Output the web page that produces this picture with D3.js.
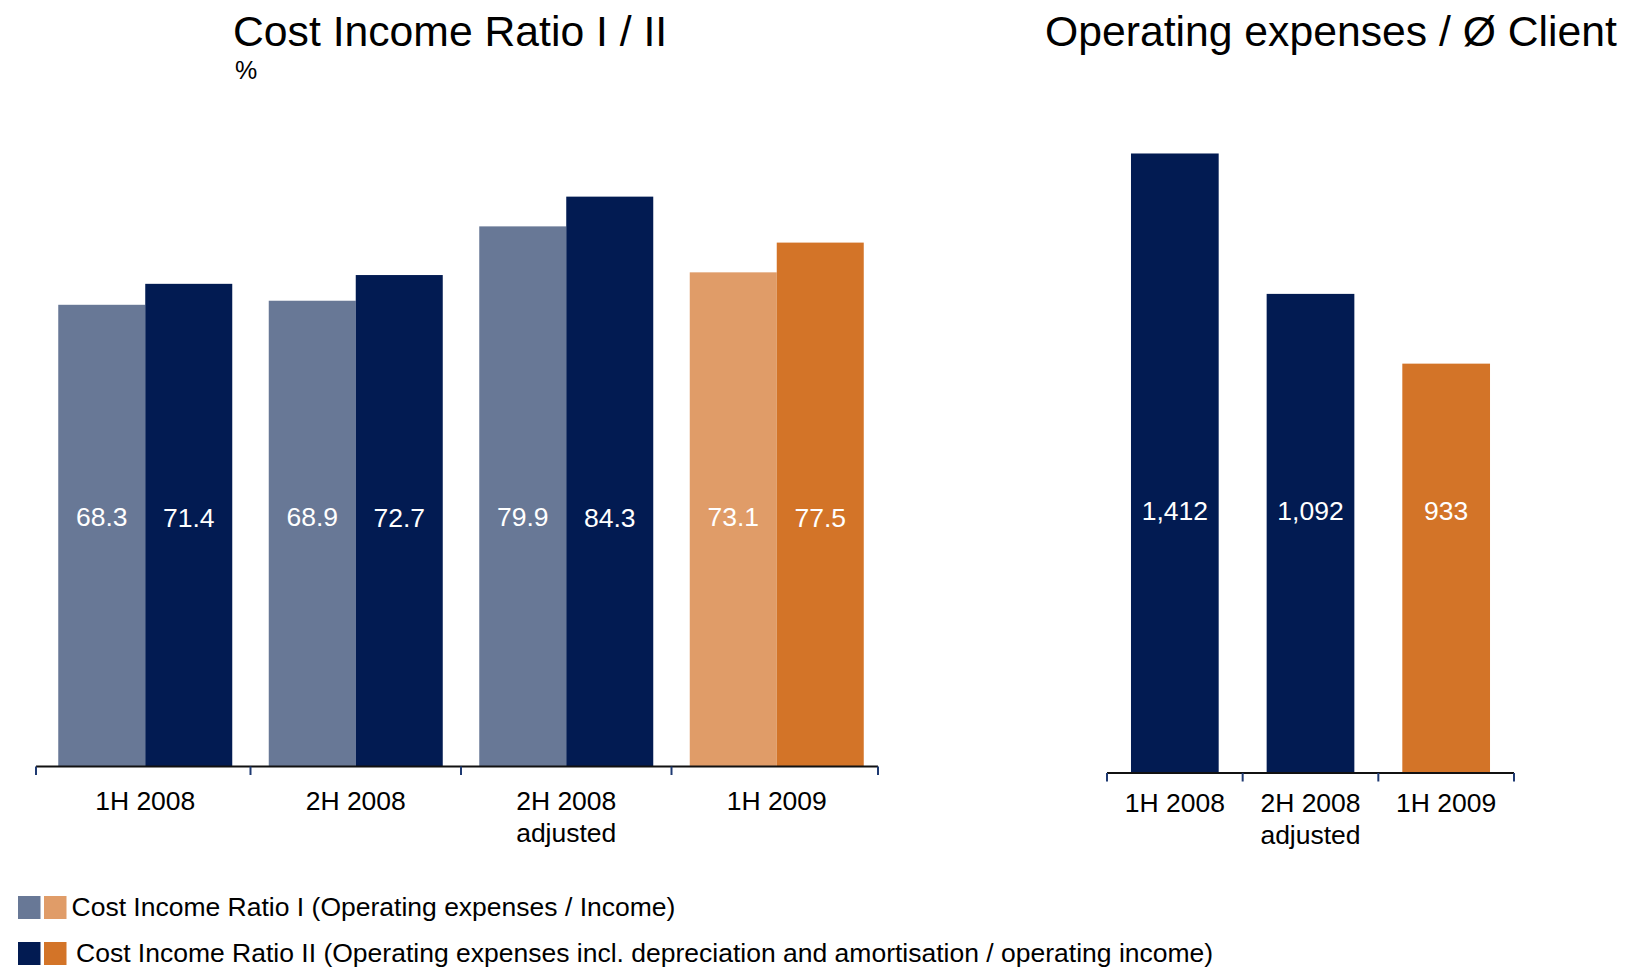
<!DOCTYPE html>
<html>
<head>
<meta charset="utf-8">
<script src="https://cdn.jsdelivr.net/npm/d3@7"></script>
<style>
  html, body { margin: 0; padding: 0; background: #fff; }
  svg { display: block; font-family: "Liberation Sans", Arial, Helvetica, sans-serif; }
</style>
</head>
<body>
<svg id="chart" width="1625" height="968"></svg>
<script>
// Cost Income Ratio I / II (%)
const periods = ["1H 2008", "2H 2008", "2H 2008\nadjusted", "1H 2009"];
const ratioI  = [68.3, 68.9, 79.9, 73.1];
const ratioII = [71.4, 72.7, 84.3, 77.5];
const valueLabelsI  = ["68.3", "68.9", "79.9", "73.1"];
const valueLabelsII = ["71.4", "72.7", "84.3", "77.5"];

// Operating expenses per average client
const clientPeriods = ["1H 2008", "2H 2008\nadjusted", "1H 2009"];
const opexPerClient = [1412, 1092, 933];
const opexLabels = ["1,412", "1,092", "933"];

const legendLabels = [
  "Cost Income Ratio I (Operating expenses / Income)",
  "Cost Income Ratio II (Operating expenses incl. depreciation and amortisation / operating income)"
];

const C = {
  grey: "#687896",
  navy: "#021B52",
  lightOrange: "#E09C68",
  orange: "#D37428",
  tick: "#1F3A72",
  axis: "#111111"
};
// last period is highlighted in orange tones
const colorI  = i => i === periods.length - 1 ? C.lightOrange : C.grey;
const colorII = i => i === periods.length - 1 ? C.orange : C.navy;

const FS = 26.5;
const svg = d3.select("#chart");

// ---------- left chart ----------
const left = { x0: 36, x1: 878, base: 766.5 };
const xL = d3.scaleBand().domain(periods).range([left.x0, left.x1]);
const yL = d3.scaleLinear().domain([0, 100]).range([left.base, left.base - 676]);
const barW = 87;
const groupShift = 4;
const cx = p => xL(p) + xL.bandwidth() / 2 + groupShift;

const gL = svg.append("g");
gL.selectAll("rect.r1").data(periods).join("rect")
  .attr("x", p => cx(p) - barW)
  .attr("y", (p, i) => yL(ratioI[i]))
  .attr("width", barW)
  .attr("height", (p, i) => yL(0) - yL(ratioI[i]))
  .attr("fill", (p, i) => colorI(i));
gL.selectAll("rect.r2").data(periods).join("rect")
  .attr("x", p => cx(p))
  .attr("y", (p, i) => yL(ratioII[i]))
  .attr("width", barW)
  .attr("height", (p, i) => yL(0) - yL(ratioII[i]))
  .attr("fill", (p, i) => colorII(i));

gL.selectAll("text.v1").data(periods).join("text")
  .attr("x", p => cx(p) - barW / 2)
  .attr("y", 526)
  .attr("text-anchor", "middle")
  .attr("font-size", FS)
  .attr("fill", "#fff")
  .text((p, i) => valueLabelsI[i]);
gL.selectAll("text.v2").data(periods).join("text")
  .attr("x", p => cx(p) + barW / 2)
  .attr("y", 527)
  .attr("text-anchor", "middle")
  .attr("font-size", FS)
  .attr("fill", "#fff")
  .text((p, i) => valueLabelsII[i]);

// Axis with separators: outer ones at the range ends, inner ones midway between groups
function drawAxis(g, scale, base, labelY, shift) {
  const [r0, r1] = scale.range();
  const edges = [r0].concat(scale.domain().slice(1).map(d => scale(d) + shift), [r1]);
  g.append("line")
    .attr("x1", r0).attr("x2", r1)
    .attr("y1", base).attr("y2", base)
    .attr("stroke", C.axis).attr("stroke-width", 1.8);
  g.selectAll("line.tick").data(edges).join("line")
    .attr("x1", d => d).attr("x2", d => d)
    .attr("y1", base).attr("y2", base + 8.5)
    .attr("stroke", C.tick).attr("stroke-width", 2);
  const lbl = g.selectAll("text.cat").data(scale.domain()).join("text")
    .attr("x", d => scale(d) + scale.bandwidth() / 2 + shift)
    .attr("y", labelY)
    .attr("text-anchor", "middle")
    .attr("font-size", FS)
    .attr("fill", "#000");
  lbl.selectAll("tspan").data(d => d.split("\n")).join("tspan")
    .attr("x", function() { return this.parentNode.getAttribute("x"); })
    .attr("dy", (d, i) => i === 0 ? 0 : 32)
    .text(d => d);
}
drawAxis(gL, xL, left.base, 810, groupShift);

// ---------- right chart ----------
const right = { x0: 1107, x1: 1514, base: 773 };
const xR = d3.scaleBand().domain(clientPeriods).range([right.x0, right.x1]);
const yR = d3.scaleLinear().domain([0, 1600]).range([right.base, right.base - 702]);
const barWR = 87.7;
const gR = svg.append("g");
gR.selectAll("rect").data(clientPeriods).join("rect")
  .attr("x", p => xR(p) + xR.bandwidth() / 2 - barWR / 2)
  .attr("y", (p, i) => yR(opexPerClient[i]))
  .attr("width", barWR)
  .attr("height", (p, i) => yR(0) - yR(opexPerClient[i]))
  .attr("fill", (p, i) => i === clientPeriods.length - 1 ? C.orange : C.navy);
gR.selectAll("text.v").data(clientPeriods).join("text")
  .attr("x", p => xR(p) + xR.bandwidth() / 2)
  .attr("y", 520)
  .attr("text-anchor", "middle")
  .attr("font-size", FS)
  .attr("fill", "#fff")
  .text((p, i) => opexLabels[i]);
drawAxis(gR, xR, right.base, 812, 0);

// ---------- titles ----------
svg.append("text").attr("x", 233).attr("y", 46)
  .attr("font-size", 42.7).attr("fill", "#000")
  .text("Cost Income Ratio I / II");
svg.append("text").attr("x", 235).attr("y", 79)
  .attr("font-size", 25).attr("fill", "#000")
  .text("%");
svg.append("text").attr("x", 1045).attr("y", 46)
  .attr("font-size", 42.7).attr("fill", "#000")
  .text("Operating expenses / Ø Client");

// ---------- legend ----------
const legendRows = [
  { y: 896, colors: [C.grey, C.lightOrange], textX: 71.5, baseline: 916 },
  { y: 942, colors: [C.navy, C.orange], textX: 76, baseline: 962 }
];
const lg = svg.append("g");
legendRows.forEach((row, r) => {
  row.colors.forEach((c, k) => {
    lg.append("rect")
      .attr("x", 18 + k * 26).attr("y", row.y)
      .attr("width", 22.5).attr("height", 23)
      .attr("fill", c);
  });
  lg.append("text")
    .attr("x", row.textX).attr("y", row.baseline)
    .attr("font-size", FS).attr("fill", "#000")
    .text(legendLabels[r]);
});
</script>
</body>
</html>
